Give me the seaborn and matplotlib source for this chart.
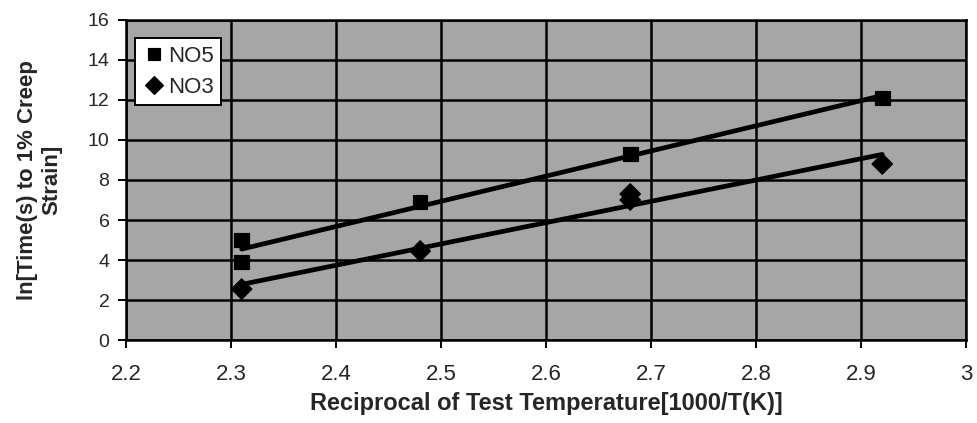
# Creep time vs reciprocal test temperature

import numpy as np
import pandas as pd
import seaborn as sns
import matplotlib.pyplot as plt

# values
no5_x = [2.31, 2.31, 2.48, 2.68, 2.92]
no5_y = [5.0, 3.9, 6.9, 9.3, 12.1]
no3_x = [2.31, 2.48, 2.68, 2.68, 2.92]
no3_y = [2.55, 4.45, 7.3, 7.0, 8.8]
series_names = ['NO5', 'NO3']
x_ticks = [2.2, 2.3, 2.4, 2.5, 2.6, 2.7, 2.8, 2.9, 3.0]
x_tick_labels = ['2.2', '2.3', '2.4', '2.5', '2.6', '2.7', '2.8', '2.9', '3']
y_ticks = [0, 2, 4, 6, 8, 10, 12, 14, 16]

df = pd.DataFrame({
    'x': no5_x + no3_x,
    'y': no5_y + no3_y,
    'series': [series_names[0]] * len(no5_x) + [series_names[1]] * len(no3_x),
})

sns.set_style('white')
plt.rcParams['font.family'] = ['Liberation Sans', 'DejaVu Sans']

fig = plt.figure(figsize=(9.78, 4.23), dpi=100)
ax = fig.add_axes([0.129, 0.196, 0.859, 0.757])
ax.set_facecolor('#a6a6a6')

# Excel style linear trendlines
for name in series_names:
    sub = df[df['series'] == name]
    sns.regplot(data=sub, x='x', y='y', ax=ax, ci=None, truncate=True,
                scatter=False, line_kws={'color': 'black', 'linewidth': 3.4})

sns.scatterplot(data=df, x='x', y='y', style='series', markers=['s', 'D'],
                color='black', s=110, edgecolor='black', ax=ax, zorder=5)

ax.set_xlim(2.2, 3.0)
ax.set_ylim(0, 16)
ax.set_xticks(x_ticks)
ax.set_xticklabels(x_tick_labels)
ax.set_yticks(y_ticks)
ax.grid(True, color='black', linewidth=1.8)
ax.set_axisbelow(True)
for sp in ax.spines.values():
    sp.set_color('black')
    sp.set_linewidth(1.8)
ax.tick_params(axis='x', direction='out', length=6, width=1.4, color='black',
               labelsize=16, pad=11, bottom=True)
ax.tick_params(axis='y', direction='out', length=6, width=1.4, color='black',
               labelsize=14, pad=6, left=True)

ax.set_xlabel('Reciprocal of Test Temperature[1000/T(K)]', fontsize=17,
              fontweight='bold', labelpad=5)
ax.set_ylabel('ln[Time(s) to 1% Creep\nStrain]', fontsize=16,
              fontweight='bold', labelpad=18, multialignment='center')

handles, labels = ax.get_legend_handles_labels()
for h in handles:
    h.set_markersize(9)
leg = ax.legend(handles, labels, loc='upper left', bbox_to_anchor=(0.011, 0.944),
                borderaxespad=0, fontsize=16, frameon=True, fancybox=False,
                handletextpad=0.1, handlelength=1.0, borderpad=0.35,
                labelspacing=0.45)
leg.get_frame().set_edgecolor('black')
leg.get_frame().set_linewidth(1.4)
leg.get_frame().set_alpha(1)

fig.savefig('out.png', dpi=100)
